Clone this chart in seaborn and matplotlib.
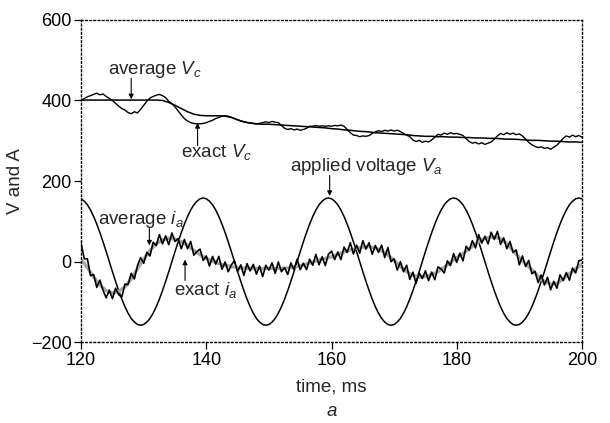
import numpy as np
import pandas as pd
import matplotlib
matplotlib.use("Agg")
import matplotlib.pyplot as plt
import seaborn as sns

# ---------------- data ----------------
t_coarse = np.arange(120, 201, 1.0)        # 1 ms grid
t_fine = np.arange(120, 200.25, 0.5)       # 0.5 ms grid

avg_vc = [401, 401, 401, 401, 401, 401, 401, 401, 401, 401, 401, 401, 401,
          400, 395, 388, 380, 372, 366, 363, 362, 362, 362, 361, 358, 352,
          347, 344, 342, 341, 341, 340, 339, 338, 337, 336, 335, 334, 333,
          332, 330, 329, 327, 326, 324, 323, 322, 320, 319, 318, 317, 316,
          315, 313, 312, 311, 311, 310, 310, 309, 309, 308, 308, 307, 307,
          306, 306, 305, 304, 304, 303, 302, 301, 301, 300, 299, 299, 298,
          297, 297, 296]

exact_vc = [400, 405, 409, 412, 415, 418, 414, 416, 410, 405, 400, 393, 386,
            380, 376, 370, 367, 372, 369, 378, 388, 398, 406, 410, 413, 415,
            412, 407, 398, 392, 384, 374, 364, 355, 349, 345, 343, 342, 342,
            343, 345, 348, 351, 355, 358, 361, 362, 361, 358, 355, 352, 349,
            347, 345, 344, 343, 342, 343, 345, 347, 345, 348, 346, 345, 338,
            331, 328, 330, 327, 329, 326, 328, 331, 336, 336, 338, 336, 337,
            336, 337, 336, 338, 337, 339, 336, 328, 320, 314, 313, 310, 312,
            311, 313, 318, 322, 325, 323, 326, 324, 327, 324, 326, 323, 318,
            314, 310, 302, 298, 301, 296, 299, 297, 302, 309, 316, 314, 319,
            316, 320, 317, 318, 316, 313, 305, 298, 294, 296, 292, 295, 291,
            294, 297, 304, 312, 318, 315, 320, 316, 319, 315, 317, 312, 304,
            296, 290, 286, 283, 285, 281, 283, 279, 284, 289, 297, 306, 312,
            309, 314, 310, 313, 309]

applied_va = [156, 150, 141, 128, 112, 93, 72, 49, 25, 0, -25, -49, -72, -93,
              -112, -128, -141, -150, -156, -158, -156, -150, -141, -128, -112,
              -93, -72, -49, -25, 0, 25, 49, 72, 93, 112, 128, 141, 150, 156, 158,
              156, 150, 141, 128, 112, 93, 72, 49, 25, 0, -25, -49, -72, -93,
              -112, -128, -141, -150, -156, -158, -156, -150, -141, -128, -112,
              -93, -72, -49, -25, 0, 25, 49, 72, 93, 112, 128, 141, 150, 156, 158,
              156, 150, 141, 128, 112, 93, 72, 49, 25, 0, -25, -49, -72, -93,
              -112, -128, -141, -150, -156, -158, -156, -150, -141, -128, -112,
              -93, -72, -49, -25, 0, 25, 49, 72, 93, 112, 128, 141, 150, 156, 158,
              156, 150, 141, 128, 112, 93, 72, 49, 25, 0, -25, -49, -72, -93,
              -112, -128, -141, -150, -156, -158, -156, -150, -141, -128, -112,
              -93, -72, -49, -25, 0, 25, 49, 72, 93, 112, 128, 141, 150, 156, 158,
              156]

avg_ia = [5, -15, -38, -58, -72, -78, -74, -62, -43, -18, 6, 28, 44, 54, 58,
          56, 50, 40, 28, 17, 8, 1, -5, -9, -12, -15, -16, -17, -17, -17, -17,
          -17, -17, -16, -14, -10, -6, -1, 4, 8, 12, 18, 24, 29, 33, 36, 37,
          34, 27, 17, 3, -12, -25, -34, -38, -37, -32, -25, -14, -2, 10, 20,
          32, 44, 54, 60, 61, 57, 44, 27, 10, -6, -20, -36, -50, -56, -54,
          -43, -30, -18, -6]

exact_ia = [45, 7, 7, -35, -32, -64, -46, -71, -90, -71, -92, -66, -82, -88,
            -56, -57, -29, -43, -10, 10, -4, 23, 14, 48, 40, 67, 44, 64, 42, 71,
            50, 57, 32, 55, 32, 50, 16, 25, 31, 3, 14, -11, 13, -6, 13, -19, -1,
            -25, -8, 2, -25, -8, -34, -5, -23, -7, -31, -11, -37, -9, -21, -3,
            -29, -1, -25, -15, -32, -3, -20, 6, -20, -4, -20, 6, -9, 18, -8, 12,
            -10, 18, 26, 5, 24, 5, 36, 23, 47, 19, 41, 21, 52, 31, 47, 18, 40,
            23, 41, 10, 35, 0, 7, -21, 0, -25, -9, -44, -26, -54, -28, -42, -23,
            -47, -26, -45, -13, -18, -28, 2, -10, 20, -2, 21, 2, 38, 28, 52, 34,
            67, 46, 63, 44, 73, 55, 75, 43, 59, 32, 50, 23, 29, -8, 14, -12, 3,
            -30, -24, -52, -33, -58, -39, -70, -49, -66, -33, -47, -27, -46,
            -16, -28, 2, 4]

x_ticks = [120, 140, 160, 180, 200]
y_ticks = [-200, 0, 200, 400, 600]
y_tick_labels = ["\u2212200", "0", "200", "400", "600"]

df_coarse = pd.DataFrame({"t": t_coarse, "avg_vc": avg_vc, "avg_ia": avg_ia})
df_fine = pd.DataFrame({"t": t_fine, "exact_vc": exact_vc, "va": applied_va,
                        "exact_ia": exact_ia})

# ---------------- style ----------------
sns.set_theme(style="white")
plt.rcParams["font.family"] = ["Liberation Sans", "DejaVu Sans"]
plt.rcParams["mathtext.fontset"] = "custom"
plt.rcParams["mathtext.it"] = "Liberation Sans:italic"
plt.rcParams["mathtext.rm"] = "Liberation Sans"

fig = plt.figure(figsize=(6.10, 4.23), dpi=100)
ax = fig.add_axes([0.133, 0.191, 0.821, 0.762])

sns.lineplot(data=df_fine, x="t", y="va", ax=ax, color="black", lw=1.1,
             estimator=None, sort=False)
sns.lineplot(data=df_coarse, x="t", y="avg_ia", ax=ax, color="#a8a8a8", lw=2.4,
             estimator=None, sort=False)
sns.lineplot(data=df_fine, x="t", y="exact_ia", ax=ax, color="black", lw=1.2,
             estimator=None, sort=False)
sns.lineplot(data=df_coarse, x="t", y="avg_vc", ax=ax, color="black", lw=1.1,
             estimator=None, sort=False)
sns.lineplot(data=df_fine, x="t", y="exact_vc", ax=ax, color="black", lw=1.0,
             estimator=None, sort=False)

ax.set_xlim(120, 200)
ax.set_ylim(-200, 600)
ax.set_xticks(x_ticks)
ax.set_xticklabels([str(v) for v in x_ticks])
ax.set_yticks(y_ticks)
ax.set_yticklabels(y_tick_labels)
ax.tick_params(axis="both", direction="out", length=5, width=0.9,
               labelsize=13, colors="black", pad=2,
               bottom=True, left=True, top=False, right=False)
for s in ax.spines.values():
    s.set_linestyle((0, (1.2, 1.8)))
    s.set_linewidth(1.0)
    s.set_color("black")

fs = 13.5
ax.set_xlabel("time, ms", fontsize=fs, labelpad=7)
ax.set_ylabel("V and A", fontsize=fs, labelpad=5)
fig.text(0.5 * (0.133 + 0.954), 1 - 420 / 423, "a", fontsize=fs, style="italic",
         ha="center", va="bottom")

arrow = dict(arrowstyle="-|>", lw=0.8, color="black", mutation_scale=7,
             shrinkA=0, shrinkB=0)
# average Vc
ax.annotate("", xy=(128.0, 403), xytext=(128.0, 455), arrowprops=arrow)
ax.text(131.8, 465, "average $V_c$", fontsize=fs, ha="center", va="baseline")
# exact Vc
ax.annotate("", xy=(138.6, 344), xytext=(138.6, 288), arrowprops=arrow)
ax.text(141.7, 259, "exact $V_c$", fontsize=fs, ha="center", va="baseline")
# applied voltage Va
ax.annotate("", xy=(159.7, 163), xytext=(159.7, 214), arrowprops=arrow)
ax.text(165.5, 226, "applied voltage $V_a$", fontsize=fs, ha="center", va="baseline")
# average ia
ax.annotate("", xy=(130.9, 40), xytext=(130.9, 82), arrowprops=arrow)
ax.text(129.5, 94, "average $i_a$", fontsize=fs, ha="center", va="baseline")
# exact ia
ax.annotate("", xy=(136.6, 5), xytext=(136.6, -47), arrowprops=arrow)
ax.text(139.8, -84, "exact $i_a$", fontsize=fs, ha="center", va="baseline")

fig.savefig("out.png", dpi=100)
